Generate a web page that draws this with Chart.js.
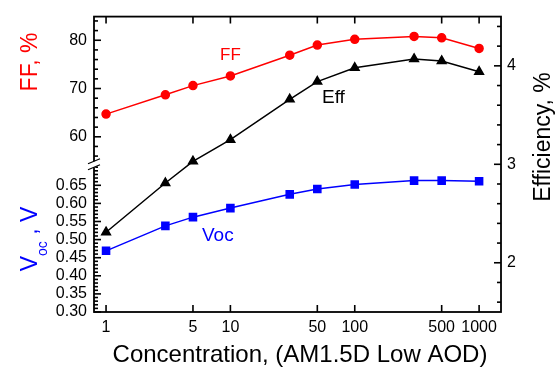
<!DOCTYPE html>
<html>
<head>
<meta charset="utf-8">
<script src="https://cdn.jsdelivr.net/npm/chart.js@4.4.1/dist/chart.umd.min.js"></script>
<style>
  html, body { margin: 0; padding: 0; background: #fff; }
  #wrap { width: 560px; height: 370px; position: relative; }
</style>
</head>
<body>
<div id="wrap"><canvas id="chart"></canvas></div>
<script>
const concentration = [1, 3, 5, 10, 30, 50, 100, 300, 500, 1000];
const ffValues = [64.7, 68.7, 70.6, 72.6, 76.9, 79.0, 80.2, 80.8, 80.5, 78.3];
const vocValues = [0.469, 0.538, 0.562, 0.587, 0.625, 0.640, 0.652, 0.663, 0.663, 0.661];
const effValues = [2.31, 2.81, 3.03, 3.25, 3.66, 3.84, 3.98, 4.07, 4.05, 3.94];

const xTicks = [1, 5, 10, 50, 100, 500, 1000];
const ffTicks = [60, 70, 80];
const vocTicks = [0.30, 0.35, 0.40, 0.45, 0.50, 0.55, 0.60, 0.65];
const effTicks = [2, 3, 4];

const FONT = "'Liberation Sans', Arial, sans-serif";

function points(values) {
  return concentration.map(function (c, i) {
    return { x: c, y: values[i] };
  });
}

function fixedTicks(list) {
  return function (scale) {
    scale.ticks = list.map(function (v) { return { value: v }; });
  };
}

// inward tick marks on a vertical axis: minor every `step`, long ones at labels
function drawYTicks(ctx, scale, x, dir, step, majors) {
  const first = Math.ceil(scale.min / step - 1e-9);
  const last = Math.floor(scale.max / step + 1e-9);
  for (let k = first; k <= last; k++) {
    const v = k * step;
    const isMajor = majors.some(function (m) { return Math.abs(m - v) < step / 10; });
    const len = isMajor ? 7 : 4;
    const p = scale.getPixelForValue(v);
    ctx.beginPath();
    ctx.moveTo(x, p);
    ctx.lineTo(x + dir * len, p);
    ctx.stroke();
  }
}

const decor = {
  id: "decor",
  afterDraw: function (chart) {
    const ctx = chart.ctx;
    const a = chart.chartArea;
    const s = chart.scales;
    ctx.save();
    ctx.strokeStyle = "#000";
    ctx.lineWidth = 1.6;
    drawYTicks(ctx, s.yFF, a.left, 1, 2, ffTicks);
    drawYTicks(ctx, s.yVoc, a.left, 1, 0.01, vocTicks);
    drawYTicks(ctx, s.yEff, a.right, -1, 0.2, effTicks);
    xTicks.forEach(function (v) {
      const p = s.x.getPixelForValue(v);
      ctx.beginPath();
      ctx.moveTo(p, a.bottom);
      ctx.lineTo(p, a.bottom - 7);
      ctx.moveTo(p, a.top);
      ctx.lineTo(p, a.top + 7);
      ctx.stroke();
    });

    ctx.lineWidth = 1.8;
    ctx.strokeRect(a.left, a.top, a.right - a.left, a.bottom - a.top);

    // axis break between FF and Voc
    const b = s.yFF.bottom;
    ctx.fillStyle = "#fff";
    ctx.fillRect(a.left - 2, b - 3, 4, 6);
    ctx.lineWidth = 1.2;
    ctx.beginPath();
    ctx.moveTo(a.left - 6, b - 0.5);
    ctx.lineTo(a.left + 6, b - 5.5);
    ctx.moveTo(a.left - 6, b + 5.5);
    ctx.lineTo(a.left + 6, b + 0.5);
    ctx.stroke();

    // axis titles
    ctx.textBaseline = "alphabetic";
    ctx.textAlign = "center";
    ctx.fillStyle = "#000";
    ctx.font = "24px " + FONT;
    ctx.fillText("Concentration, (AM1.5D Low AOD)", 300, 362);

    ctx.save();
    ctx.translate(550, 137);
    ctx.rotate(-Math.PI / 2);
    ctx.font = "23px " + FONT;
    ctx.fillText("Efficiency, %", 0, 0);
    ctx.restore();

    ctx.save();
    ctx.translate(37, 62);
    ctx.rotate(-Math.PI / 2);
    ctx.fillStyle = "#ff0000";
    ctx.font = "23px " + FONT;
    ctx.fillText("FF, %", 0, 0);
    ctx.restore();

    // V_oc , V with subscript
    ctx.save();
    ctx.translate(37, 239);
    ctx.rotate(-Math.PI / 2);
    ctx.fillStyle = "#0000ff";
    ctx.textAlign = "left";
    ctx.font = "23px " + FONT;
    const wV = ctx.measureText("V").width;
    const wTail = ctx.measureText(" , V").width;
    ctx.font = "14px " + FONT;
    const wSub = ctx.measureText("oc").width;
    const x0 = -(wV + wSub + wTail) / 2;
    ctx.font = "23px " + FONT;
    ctx.fillText("V", x0, 0);
    ctx.font = "14px " + FONT;
    ctx.fillText("oc", x0 + wV, 10);
    ctx.font = "23px " + FONT;
    ctx.fillText(" , V", x0 + wV + wSub, 0);
    ctx.restore();

    // series labels inside the plot
    ctx.textAlign = "left";
    ctx.fillStyle = "#ff0000";
    ctx.font = "17px " + FONT;
    ctx.fillText("FF", 220, 60);
    ctx.fillStyle = "#000";
    ctx.font = "19px " + FONT;
    ctx.fillText("Eff", 322, 103);
    ctx.fillStyle = "#0000ff";
    ctx.fillText("Voc", 202, 241);
    ctx.restore();
  }
};

const tickFont = { family: FONT, size: 16 };

const ctx = document.getElementById("chart").getContext("2d");
const myChart = new Chart(ctx, {
  type: "line",
  data: {
    datasets: [
      {
        label: "FF",
        data: points(ffValues),
        yAxisID: "yFF",
        borderColor: "#ff0000",
        backgroundColor: "#ff0000",
        borderWidth: 1.5,
        pointStyle: "circle",
        pointRadius: 4,
      },
      {
        label: "Eff",
        data: points(effValues),
        yAxisID: "yEff",
        borderColor: "#000000",
        backgroundColor: "#000000",
        borderWidth: 1.5,
        pointStyle: "triangle",
        pointRadius: 5,
      },
      {
        label: "Voc",
        data: points(vocValues),
        yAxisID: "yVoc",
        borderColor: "#0000ff",
        backgroundColor: "#0000ff",
        borderWidth: 1.5,
        pointStyle: "rect",
        pointRadius: 5,
      },
    ],
  },
  options: {
    responsive: true,
    maintainAspectRatio: false,
    animation: false,
    layout: { padding: { top: 9, left: 0, right: 0, bottom: 0 } },
    plugins: { legend: { display: false }, tooltip: { enabled: false } },
    scales: {
      x: {
        type: "logarithmic",
        min: 0.8,
        max: 1500,
        grid: { display: false, drawTicks: false },
        border: { display: false },
        afterBuildTicks: fixedTicks(xTicks),
        ticks: {
          autoSkip: false,
          maxRotation: 0,
          padding: 6,
          color: "#000",
          font: tickFont,
          callback: function (v) { return String(v); },
        },
        afterFit: function (scale) { scale.height = 58; },
      },
      yVoc: {
        type: "linear",
        position: "left",
        stack: "left",
        stackWeight: 1,
        min: 0.3,
        max: 0.708,
        grid: { display: false, drawTicks: false },
        border: { display: false },
        afterBuildTicks: fixedTicks(vocTicks),
        ticks: {
          autoSkip: false,
          padding: 7,
          color: "#000",
          font: tickFont,
          callback: function (v) { return v.toFixed(2); },
        },
        afterFit: function (scale) { scale.width = 94; },
      },
      yFF: {
        type: "linear",
        position: "left",
        stack: "left",
        stackWeight: 1,
        min: 54.3,
        max: 84.9,
        grid: { display: false, drawTicks: false },
        border: { display: false },
        afterBuildTicks: fixedTicks(ffTicks),
        ticks: {
          autoSkip: false,
          padding: 7,
          color: "#000",
          font: tickFont,
        },
        afterFit: function (scale) { scale.width = 94; },
      },
      yEff: {
        type: "linear",
        position: "right",
        min: 1.5,
        max: 4.5,
        grid: { display: false, drawTicks: false },
        border: { display: false },
        afterBuildTicks: fixedTicks(effTicks),
        ticks: {
          autoSkip: false,
          padding: 6,
          color: "#000",
          font: tickFont,
        },
        afterFit: function (scale) { scale.width = 59; },
      },
    },
  },
  plugins: [decor],
});
</script>
</body>
</html>
